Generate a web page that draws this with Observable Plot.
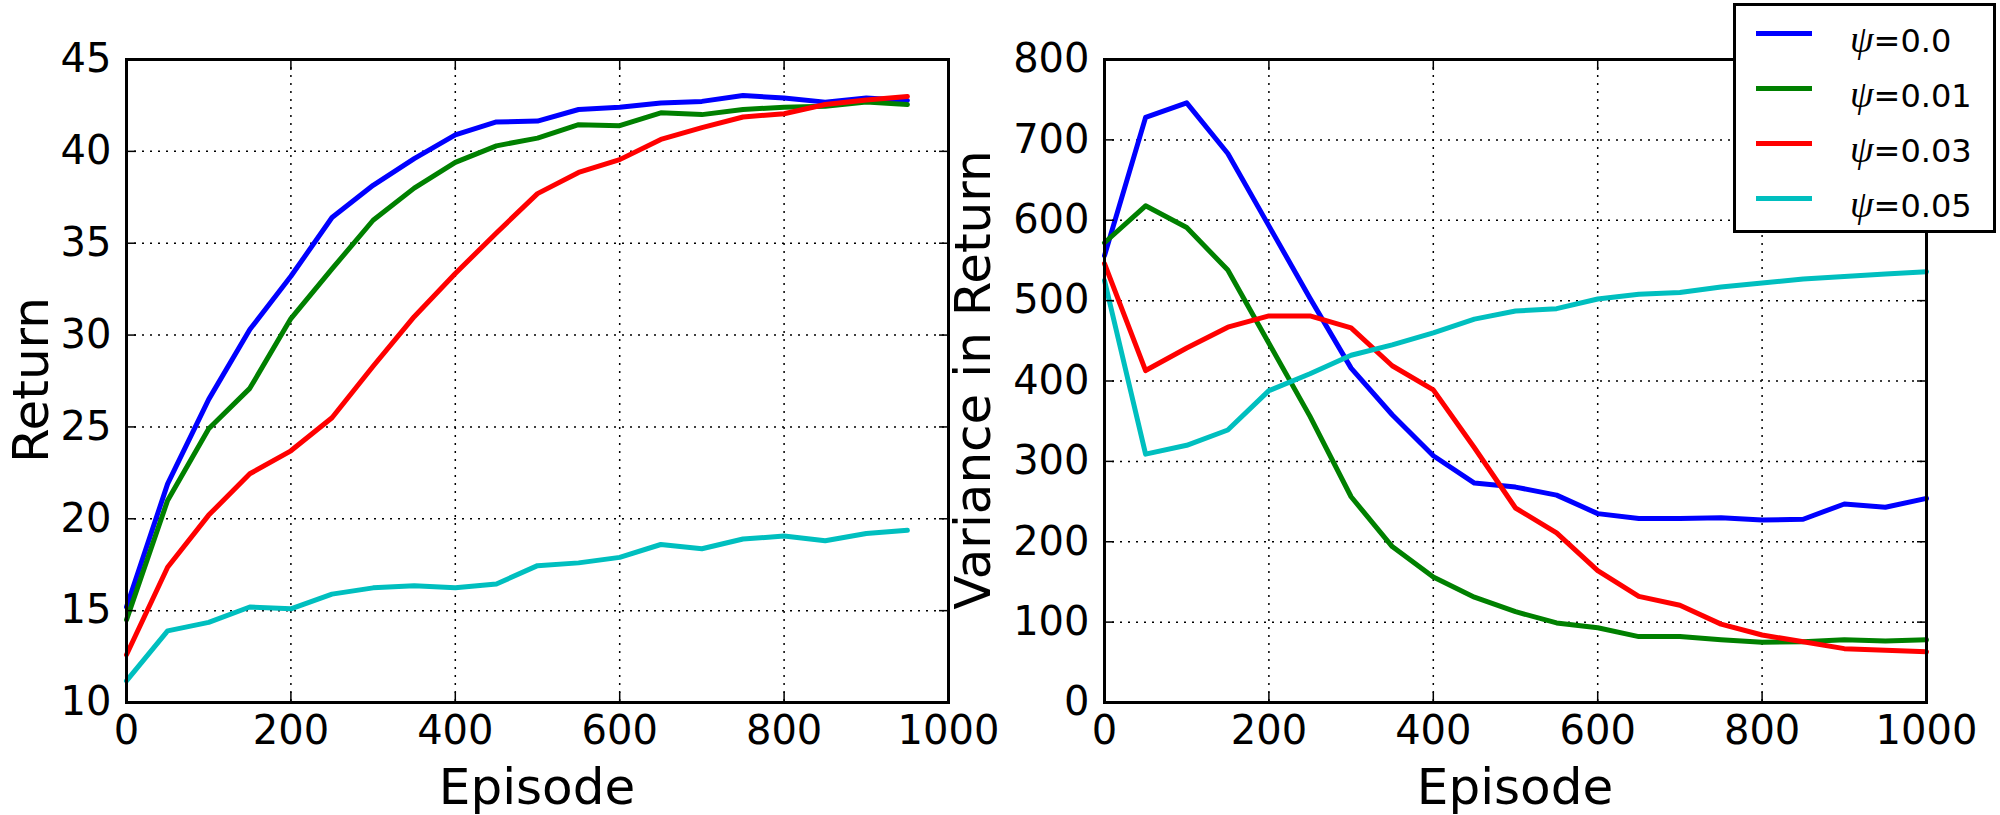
<!DOCTYPE html>
<html>
<head>
<meta charset="utf-8">
<script src="https://cdn.jsdelivr.net/npm/d3@7"></script>
<script src="https://cdn.jsdelivr.net/npm/@observablehq/plot@0.6"></script>
<style>
  html, body { margin: 0; padding: 0; background: white; }
  #wrap { position: relative; width: 2000px; height: 815px; overflow: hidden; font-family: "DejaVu Sans", sans-serif; }
  #wrap svg { position: absolute; top: 0; }
  .title { position: absolute; font: 50px "DejaVu Sans"; line-height: 1; white-space: nowrap; color: black; }
  #legend { position: absolute; left: 1733px; top: 3px; width: 263px; height: 230px; box-sizing: border-box;
            border: 3px solid black; background: white; }
  #legend .sw { position: absolute; left: 20px; width: 56px; height: 5px; }
  #legend .lt { position: absolute; left: 114px; font: 32px "DejaVu Sans"; line-height: 1; white-space: nowrap; }
  #legend .psi { font-family: "Liberation Serif", "DejaVu Serif", serif; font-style: italic; font-size: 38px; }
</style>
</head>
<body>
<div id="wrap"></div>
<script>
// ---------- data ----------
const seriesNames = ["ψ=0.0", "ψ=0.01", "ψ=0.03", "ψ=0.05"];
const seriesColors = ["#0000ff", "#008000", "#ff0000", "#00bfbf"];

const episodesReturn = [0, 50, 100, 150, 200, 250, 300, 350, 400, 450, 500, 550, 600, 650, 700, 750, 800, 850, 900, 950];
const returnPsi000 = [15.2, 21.9, 26.5, 30.3, 33.2, 36.4, 38.15, 39.6, 40.9, 41.6, 41.65, 42.28, 42.4, 42.63, 42.72, 43.04, 42.9, 42.68, 42.9, 42.77];
const returnPsi001 = [14.5, 21.0, 24.9, 27.1, 30.9, 33.6, 36.25, 38.0, 39.4, 40.3, 40.72, 41.45, 41.4, 42.1, 42.0, 42.28, 42.4, 42.45, 42.68, 42.55];
const returnPsi003 = [12.6, 17.36, 20.2, 22.45, 23.7, 25.5, 28.3, 31.0, 33.35, 35.56, 37.7, 38.85, 39.55, 40.65, 41.29, 41.87, 42.05, 42.55, 42.8, 42.99];
const returnPsi005 = [11.18, 13.9, 14.36, 15.2, 15.1, 15.9, 16.24, 16.36, 16.24, 16.45, 17.45, 17.6, 17.9, 18.6, 18.37, 18.9, 19.06, 18.8, 19.2, 19.37];

const episodesVariance = [0, 50, 100, 150, 200, 250, 300, 350, 400, 450, 500, 550, 600, 650, 700, 750, 800, 850, 900, 950, 1000];
const variancePsi000 = [556, 728, 746, 683, 593, 503, 416, 358, 307, 273, 268, 258, 235, 229, 229, 230, 227, 228, 247, 243, 254];
const variancePsi001 = [572, 618, 591, 538, 447, 356, 256, 194, 156, 131, 113, 99, 93, 82, 82, 78, 75, 75.5, 78, 76.5, 78];
const variancePsi003 = [546, 413, 441, 467, 481, 481, 466, 419, 389, 317, 242, 211, 164, 132, 121, 97.5, 84, 75.5, 67, 65, 63];
const variancePsi005 = [525, 309, 320, 339, 388, 409, 432, 445, 460, 477, 487, 490, 502, 508, 510, 517, 522, 527, 530, 533, 536];

const xTicks = [0, 200, 400, 600, 800, 1000];
const returnTicks = [10, 15, 20, 25, 30, 35, 40, 45];
const varianceTicks = [0, 100, 200, 300, 400, 500, 600, 700, 800];

const xLabel = "Episode";
const leftYLabel = "Return";
const rightYLabel = "Variance in Return";

// ---------- build tables ----------
function toRows(xs, seriesList) {
  const rows = [];
  seriesList.forEach((vals, i) => vals.forEach((v, j) => rows.push({episode: xs[j], value: v, series: seriesNames[i]})));
  return rows;
}
const returnRows = toRows(episodesReturn, [returnPsi000, returnPsi001, returnPsi003, returnPsi005]);
const varianceRows = toRows(episodesVariance, [variancePsi000, variancePsi001, variancePsi003, variancePsi005]);

const gridStyle = {stroke: "black", strokeOpacity: 1, strokeWidth: 1.5, strokeDasharray: "2,6"};
const tickStyle = {tickSize: -10, text: null, label: null, strokeWidth: 1.5};

function panel(rows, yDomain, yTicks, marginLeft, marginRight) {
  return Plot.plot({
    width: 1000,
    height: 815,
    marginLeft, marginRight,
    marginTop: 59,
    marginBottom: 113,
    style: {fontFamily: "DejaVu Sans", fontSize: "40px", background: "transparent", color: "black", overflow: "visible"},
    x: {domain: [0, 1000], ticks: xTicks},
    y: {domain: yDomain, ticks: yTicks},
    color: {domain: seriesNames, range: seriesColors},
    marks: [
      Plot.gridX(xTicks, gridStyle),
      Plot.gridY(yTicks, gridStyle),
      Plot.line(rows, {x: "episode", y: "value", z: "series", stroke: "series", strokeWidth: 5, strokeLinejoin: "round"}),
      Plot.axisX(xTicks, {anchor: "bottom", tickSize: 0, tickPadding: 13, tickFormat: d => String(d), label: null, fontSize: 40}),
      Plot.axisY(yTicks, {anchor: "left", tickSize: 0, tickPadding: 15, tickFormat: d => String(d), label: null, fontSize: 40}),
      Plot.axisX(xTicks, {anchor: "bottom", ...tickStyle}),
      Plot.axisX(xTicks, {anchor: "top", ...tickStyle}),
      Plot.axisY(yTicks, {anchor: "left", ...tickStyle}),
      Plot.axisY(yTicks, {anchor: "right", ...tickStyle}),
      Plot.frame({stroke: "black", strokeWidth: 3})
    ]
  });
}

const wrap = document.getElementById("wrap");
const leftPlot = panel(returnRows, [10, 45], returnTicks, 126, 52);
leftPlot.style.left = "0px";
wrap.appendChild(leftPlot);

const rightPlot = panel(varianceRows, [0, 800], varianceTicks, 104, 74);
rightPlot.style.left = "1000px";
wrap.appendChild(rightPlot);

// axis titles
function title(text, cx, cy, rotate) {
  const d = document.createElement("div");
  d.className = "title";
  d.textContent = text;
  d.style.left = cx + "px";
  d.style.top = cy + "px";
  d.style.transform = "translate(-50%, -50%)" + (rotate ? " rotate(-90deg)" : "");
  wrap.appendChild(d);
}
title(xLabel, 537, 787, false);
title(xLabel, 1515, 787, false);
title(leftYLabel, 31, 380, true);
title(rightYLabel, 973, 380, true);

// legend
const legend = document.createElement("div");
legend.id = "legend";
seriesNames.forEach((name, i) => {
  const sw = document.createElement("div");
  sw.className = "sw";
  sw.style.top = (33 + 55 * i - 2.5 - 6) + "px";
  sw.style.background = seriesColors[i];
  legend.appendChild(sw);
  const t = document.createElement("div");
  t.className = "lt";
  t.style.top = (14 + 55 * i) + "px";
  const psi = document.createElement("span");
  psi.className = "psi";
  psi.textContent = name.slice(0, 1);
  t.appendChild(psi);
  t.appendChild(document.createTextNode(name.slice(1)));
  legend.appendChild(t);
});
wrap.appendChild(legend);
</script>
</body>
</html>
